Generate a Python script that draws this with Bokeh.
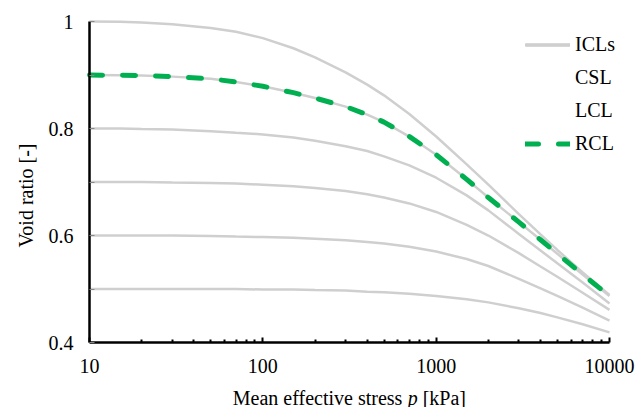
import math
from bokeh.plotting import figure
from bokeh.models import FixedTicker, Label, Legend, LegendItem, NumeralTickFormatter
from bokeh.embed import file_html
from bokeh.resources import INLINE

# Mean effective stress p [kPa]
p_kpa = [10, 15, 20, 30, 50, 70, 100, 150, 200, 300, 400, 500, 700,
         1000, 1500, 2000, 3000, 4000, 5000, 7000, 10000]

# Isotropic compression lines (void ratio)
icl_e100 = [1.000, 0.9995, 0.998, 0.995, 0.988, 0.981, 0.969, 0.950, 0.933, 0.905, 0.882, 0.862, 0.827,
            0.785, 0.733, 0.695, 0.640, 0.602, 0.573, 0.531, 0.489]
icl_e090 = [0.900, 0.8995, 0.899, 0.897, 0.893, 0.887, 0.879, 0.867, 0.857, 0.841, 0.826, 0.812, 0.785,
            0.751, 0.705, 0.671, 0.625, 0.592, 0.566, 0.527, 0.487]
icl_e080 = [0.800, 0.800, 0.799, 0.798, 0.795, 0.792, 0.789, 0.783, 0.777, 0.767, 0.758, 0.748, 0.731,
            0.708, 0.675, 0.647, 0.603, 0.572, 0.548, 0.512, 0.473]
icl_e070 = [0.700, 0.700, 0.700, 0.699, 0.698, 0.697, 0.695, 0.692, 0.689, 0.683, 0.677, 0.671, 0.660,
            0.644, 0.620, 0.600, 0.567, 0.542, 0.523, 0.493, 0.461]
icl_e060 = [0.600, 0.600, 0.600, 0.600, 0.599, 0.598, 0.597, 0.596, 0.594, 0.591, 0.588, 0.585, 0.579,
            0.570, 0.556, 0.543, 0.519, 0.501, 0.487, 0.465, 0.441]
icl_e050 = [0.500, 0.500, 0.500, 0.500, 0.500, 0.500, 0.499, 0.499, 0.498, 0.497, 0.495, 0.494, 0.491,
            0.487, 0.481, 0.475, 0.464, 0.455, 0.447, 0.434, 0.419]
icl_series = [icl_e100, icl_e090, icl_e080, icl_e070, icl_e060, icl_e050]

# Reference compression line (coincides with the e0 = 0.9 ICL)
rcl_e = [0.900, 0.8995, 0.899, 0.897, 0.893, 0.887, 0.879, 0.867, 0.857, 0.841, 0.826, 0.812, 0.785,
         0.751, 0.705, 0.671, 0.625, 0.592, 0.566, 0.527, 0.487]

x_major = [10, 100, 1000, 10000]
x_minor = [m * d for d in (10, 100, 1000) for m in range(2, 10)]
y_major = [0.4, 0.6, 0.8, 1.0]
y_minor = [0.5, 0.7, 0.9]

legend_labels = ["ICLs", "CSL", "LCL", "RCL"]
x_title = ["Mean effective stress", "p", "[kPa]"]
y_title = "Void ratio [-]"

FONT = "Liberation Serif"
FS = "20px"
GRAY = "#cfcfcf"
GREEN = "#00b050"

# the frame covers the whole canvas so that nothing is clipped;
# the axes sit at fixed data locations and are bounded to the data extents
p = figure(width=644, height=407, x_axis_type="log",
           x_range=(3.064, 15920), y_range=(0.2785, 1.0393),
           output_backend="svg", toolbar_location=None,
           min_border_left=0, min_border_right=0,
           min_border_top=0, min_border_bottom=0)
p.outline_line_color = None
p.xgrid.visible = False
p.ygrid.visible = False
p.background_fill_color = "white"
p.border_fill_color = "white"

icl_renderers = []
for e in icl_series:
    r = p.line(p_kpa, e, line_color=GRAY, line_width=2.5)
    icl_renderers.append(r)

csl_r = p.line([], [], line_color="white", line_alpha=0, line_width=2)
lcl_r = p.line([], [], line_color="white", line_alpha=0, line_width=2)

rcl_r = p.line(p_kpa, rcl_e, line_color=GREEN, line_width=5,
               line_dash="13 20", line_cap="round")

# axes
for ax in (p.xaxis[0], p.yaxis[0]):
    ax.axis_line_color = "black"
    ax.axis_line_width = 2.5
    ax.major_tick_line_color = "black"
    ax.minor_tick_line_color = "black"
    ax.major_tick_out = 0
    ax.minor_tick_out = 0
    ax.major_label_text_font = FONT
    ax.major_label_text_font_size = FS
    ax.major_label_text_color = "black"

p.xaxis.ticker = FixedTicker(ticks=x_major, minor_ticks=x_minor)
p.xaxis.formatter = NumeralTickFormatter(format="0")
p.xaxis.fixed_location = 0.4
p.xaxis.bounds = (10, 10000)
p.xaxis.major_tick_in = 5
p.xaxis.minor_tick_in = 3
p.xaxis.major_tick_line_width = 2
p.xaxis.minor_tick_line_width = 2
p.xaxis.major_label_standoff = 16

p.yaxis.ticker = FixedTicker(ticks=y_major, minor_ticks=y_minor)
p.yaxis.formatter = NumeralTickFormatter(format="0.[0]")
p.yaxis.fixed_location = 10
p.yaxis.bounds = (0.4, 1.0)
p.yaxis.major_tick_in = 5
p.yaxis.minor_tick_in = 5
p.yaxis.major_tick_line_width = 1
p.yaxis.minor_tick_line_width = 1
p.yaxis.major_tick_line_color = "#888888"
p.yaxis.minor_tick_line_color = "#888888"
p.yaxis.major_label_standoff = 16

# axis titles (x title with italic p)
common = dict(x_units="screen", y_units="screen", text_font=FONT,
              text_font_size=FS, text_color="black")
x0 = 232.3
yb = 10
p.add_layout(Label(x=x0, y=yb, text=x_title[0], text_baseline="alphabetic", **common))
p.add_layout(Label(x=x0 + 174.9, y=yb, text=x_title[1], text_font_style="italic",
                   text_baseline="alphabetic", **common))
p.add_layout(Label(x=x0 + 189.9, y=yb, text=x_title[2], text_baseline="alphabetic", **common))
p.add_layout(Label(x=25, y=212, text=y_title, angle=math.pi / 2,
                   text_align="center", text_baseline="middle", **common))

legend = Legend(items=[
    LegendItem(label=legend_labels[0], renderers=icl_renderers),
    LegendItem(label=legend_labels[1], renderers=[csl_r]),
    LegendItem(label=legend_labels[2], renderers=[lcl_r]),
    LegendItem(label=legend_labels[3], renderers=[rcl_r]),
], location=(525, 252), border_line_color=None, background_fill_alpha=0,
   label_text_font=FONT, label_text_font_size=FS, label_text_color="black",
   glyph_width=45, glyph_height=23, label_height=23, label_standoff=5,
   spacing=10, padding=0, margin=0)
p.add_layout(legend)

open("out.html", "w").write(file_html(p, INLINE))
